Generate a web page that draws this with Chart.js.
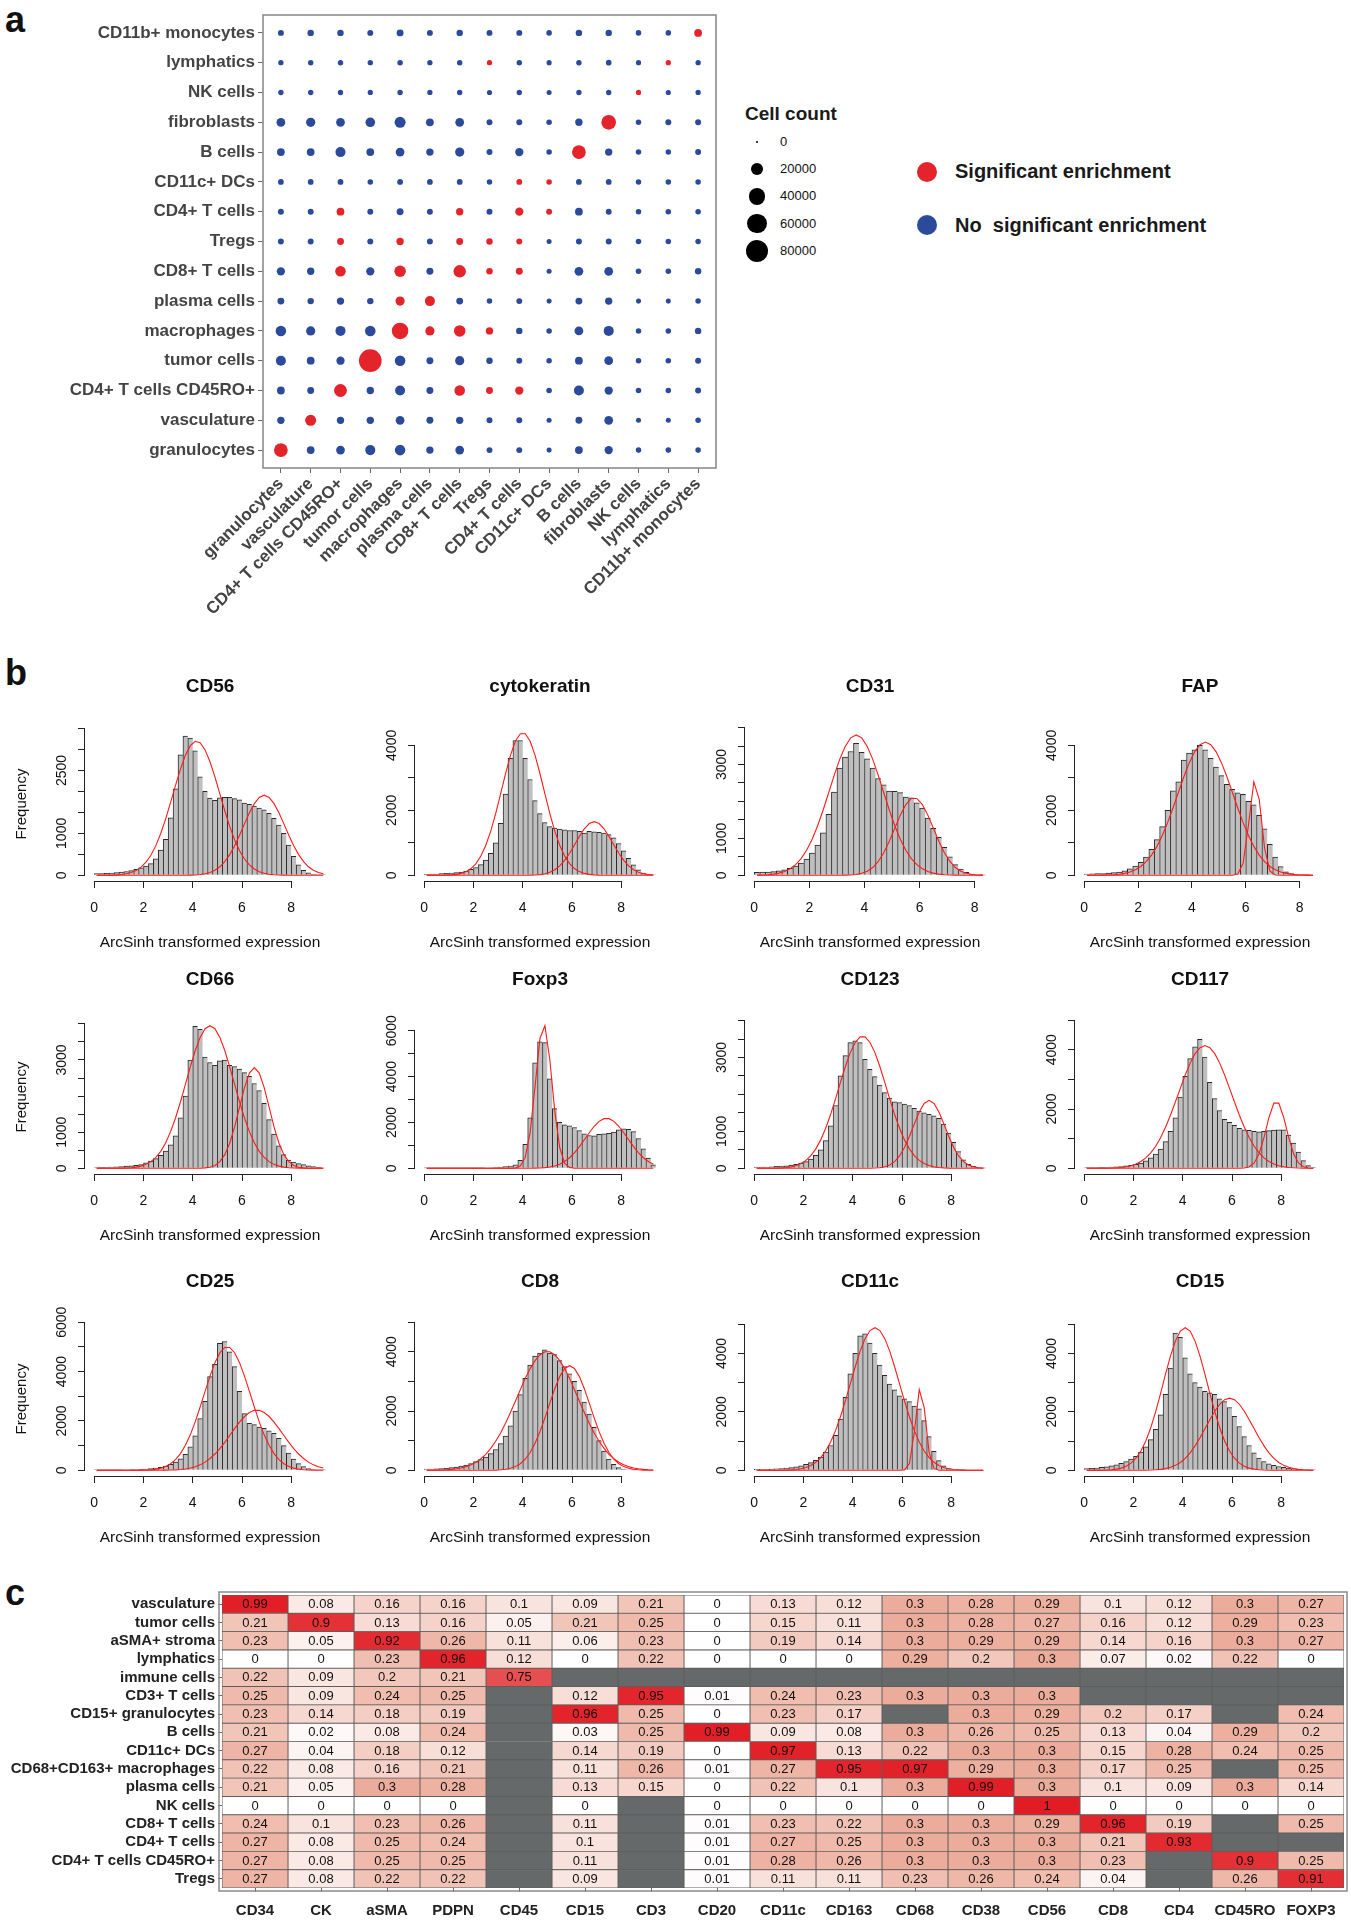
<!DOCTYPE html>
<html>
<head>
<meta charset="utf-8">
<script src="https://cdn.jsdelivr.net/npm/chart.js@4.4.0/dist/chart.umd.min.js"></script>
<style>
body{margin:0;background:#fff;width:1351px;height:1920px;position:relative;overflow:hidden;font-family:"Liberation Sans",Arial,Helvetica,sans-serif;color:#111}
canvas{position:absolute}
.pl{position:absolute;font-weight:bold;font-size:36px;line-height:36px}
.dot{position:absolute;border-radius:50%}
.txt{position:absolute;white-space:pre;line-height:16px}
.big{font-weight:bold;font-size:20px;line-height:22px;color:#1a1a1a}
</style>
</head>
<body>
<div class="pl" style="left:5px;top:2px">a</div>
<div class="pl" style="left:5px;top:655px">b</div>
<div class="pl" style="left:5px;top:1575px">c</div>

<canvas id="dots" width="740" height="660" style="left:0;top:0"></canvas>
<div class="txt big" style="left:745px;top:103px;font-size:19px">Cell count</div>
<div class="dot" style="left:917px;top:162px;width:20px;height:20px;background:#e3242b"></div>
<div class="txt big" style="left:955px;top:160px">Significant enrichment</div>
<div class="dot" style="left:917px;top:215px;width:20px;height:20px;background:#2b4a9c"></div>
<div class="txt big" style="left:955px;top:214px">No  significant enrichment</div>

<canvas id="heat" width="1351" height="340" style="left:0;top:1580px"></canvas>

<script>
// ---------- panel a : neighbourhood enrichment ----------
var cellTypes = ['granulocytes', 'vasculature', 'CD4+ T cells CD45RO+', 'tumor cells', 'macrophages',
  'plasma cells', 'CD8+ T cells', 'Tregs', 'CD4+ T cells', 'CD11c+ DCs', 'B cells', 'fibroblasts',
  'NK cells', 'lymphatics', 'CD11b+ monocytes'];

// cell counts, one row per y category (granulocytes first = bottom row)
var cellCounts = [
  [25600, 5200, 7400, 11000, 12700, 4300, 7400, 2000, 2000, 1000, 5200, 6200, 1500, 1500, 1500],
  [4300, 14300, 4300, 4300, 7400, 3500, 4300, 2000, 2000, 1000, 3500, 7400, 1000, 1000, 1500],
  [5200, 3500, 21500, 4300, 11000, 3500, 12700, 3500, 6200, 1500, 11000, 6200, 1500, 1500, 2000],
  [11000, 5200, 6200, 85000, 12700, 3500, 8600, 2700, 2000, 1500, 5200, 7400, 1500, 1500, 2000],
  [12700, 8600, 11000, 12700, 40000, 8600, 16000, 4300, 2700, 1500, 7400, 11000, 1500, 1500, 2700],
  [3500, 2700, 4300, 2700, 8600, 11000, 3500, 1500, 2000, 1000, 3500, 4300, 1000, 1000, 1500],
  [6200, 4300, 12700, 6200, 16000, 3500, 19500, 2700, 3500, 1000, 7400, 7400, 1500, 1500, 2700],
  [2000, 2000, 3500, 2000, 4300, 2000, 3500, 2700, 2000, 1000, 2000, 2000, 1500, 1500, 1500],
  [2000, 2000, 5200, 2000, 3500, 2000, 4300, 2000, 6200, 2000, 5200, 2000, 1500, 1500, 1500],
  [1800, 1800, 1800, 1500, 1800, 1800, 1800, 1500, 1800, 1500, 1800, 1800, 1500, 1500, 1500],
  [5200, 5200, 11000, 5200, 7400, 4300, 8600, 2000, 6200, 1500, 25600, 4300, 1500, 1500, 2000],
  [7400, 8600, 7400, 9800, 14300, 5200, 7400, 2000, 2000, 1500, 4300, 30000, 1500, 2000, 2000],
  [1300, 1300, 1300, 1200, 1400, 1200, 1300, 1100, 1300, 1000, 1300, 1300, 1200, 1100, 1200],
  [1300, 1400, 1400, 1300, 1500, 1300, 1400, 1300, 1400, 1100, 1400, 1600, 1100, 1300, 1300],
  [2000, 2700, 2700, 2000, 3500, 2000, 2700, 2000, 2000, 1500, 2700, 2700, 1500, 1500, 5200]
];

// columns with significant enrichment, per row
var sigCells = [[0], [1], [2, 6, 7, 8], [3], [4, 5, 6, 7], [4, 5], [2, 4, 6, 7, 8], [2, 4, 6, 7, 8],
  [2, 6, 8, 9], [8, 9], [10], [11], [12], [7, 13], [14]];

var legendCounts = [0, 20000, 40000, 60000, 80000];

// ---------- panel b : marker histograms ----------
var binMids = [0.1, 0.3, 0.5, 0.7, 0.9, 1.1, 1.3, 1.5, 1.7, 1.9, 2.1, 2.3, 2.5, 2.7, 2.9, 3.1, 3.3, 3.5, 3.7, 3.9,
  4.1, 4.3, 4.5, 4.7, 4.9, 5.1, 5.3, 5.5, 5.7, 5.9, 6.1, 6.3, 6.5, 6.7, 6.9, 7.1, 7.3, 7.5, 7.7, 7.9,
  8.1, 8.3, 8.5, 8.7, 8.9, 9.1, 9.3];

var cd56Hist = [40,40,45,55,65,75,90,110,140,180,220,280,390,600,860,1370,2060,2870,3320,3270,2970,2350,2000,1840,1790,1850,1860,1860,1830,1800,1720,1690,1650,1600,1560,1480,1360,1200,1000,720,450,250,120,60,25,10,5];
var cd56Fit1 = [0,1,2,4,9,19,36,66,115,195,311,479,707,998,1346,1737,2144,2532,2861,3091,3196,3160,2990,2707,2343,1941,1539,1166,845,586,389,247,150,87,48,26,13,6,3,1,0,0,0,0,0,0,0];
var cd56Fit2 = [0,0,0,0,0,0,0,0,0,0,0,0,0,0,0,0,0,0,2,4,8,18,36,67,120,202,325,493,705,957,1226,1490,1709,1858,1910,1858,1709,1490,1226,957,705,493,325,202,120,67,36];

var cytoHist = [30,35,40,50,60,70,80,100,130,180,240,330,470,680,1000,1600,2500,3600,4150,4150,3600,2950,2300,1900,1620,1500,1450,1420,1400,1380,1380,1350,1300,1350,1340,1320,1300,1250,1150,980,750,520,320,170,70,25,10];
var cytoFit1 = [0,0,1,3,6,13,28,58,113,208,361,593,926,1361,1901,2507,3126,3692,4127,4360,4360,4127,3692,3126,2507,1901,1361,926,593,361,208,113,58,28,13,6,3,1,0,0,0,0,0,0,0,0,0];
var cytoFit2 = [0,0,0,0,0,0,0,0,0,0,0,0,0,0,0,0,0,0,0,1,2,4,10,22,47,93,170,289,459,678,934,1198,1431,1592,1650,1592,1431,1198,934,678,459,289,170,93,47,22,10];

var cd31Hist = [80,85,90,100,120,150,190,250,330,440,600,820,1150,1650,2250,2900,3200,3350,3570,3330,3150,2900,2620,2450,2280,2270,2240,2120,2100,1960,1820,1550,1270,1030,760,500,290,170,80,35,15,5];
var cd31Fit1 = [4,8,16,32,59,105,178,290,452,680,977,1341,1767,2234,2706,3139,3488,3720,3800,3720,3488,3139,2706,2234,1767,1341,977,680,452,290,178,105,59,32,16,8,4,2,1,0,0,0];
var cd31Fit2 = [0,0,0,0,0,0,0,0,0,0,0,0,0,0,0,1,4,9,23,53,110,211,374,611,920,1275,1628,1915,2079,2079,1915,1628,1275,920,611,374,211,110,53,23,9,4];

var fapHist = [40,45,50,55,65,80,100,140,200,280,400,560,800,1100,1500,2000,2600,2880,3545,3760,3860,4000,3860,3600,3330,3070,2800,2650,2540,2490,2280,2170,1850,1430,950,560,265,105,50,20,8,3,0];
var fapFit1 = [0,1,2,5,9,18,33,59,102,169,272,418,623,890,1226,1628,2079,2558,3034,3460,3801,4022,4100,4022,3801,3460,3034,2558,2079,1628,1226,890,623,418,272,169,102,59,33,18,9,5,2];
var fapFit2 = [0,0,0,0,0,0,0,0,0,0,0,0,0,0,0,0,0,0,0,0,0,0,0,0,0,0,0,2,38,364,1546,2880,2340,832,130,9,0,0,0,0,0,0,0];

var cd66Hist = [20,25,30,35,40,50,60,70,85,100,150,200,270,360,480,650,900,1400,2000,3000,3930,3850,3080,2930,2850,2980,3000,2850,2820,2750,2650,2550,2350,2150,1800,1350,950,620,380,230,170,130,100,70,45,25,10];
var cd66Fit1 = [0,0,0,1,2,4,9,17,33,61,109,185,302,470,707,1015,1394,1837,2323,2812,3263,3626,3867,3950,3867,3626,3263,2812,2323,1837,1394,1015,707,470,302,185,109,61,33,17,9,4,2,1,0,0,0];
var cd66Fit2 = [0,0,0,0,0,0,0,0,0,0,0,0,0,0,0,0,0,0,0,0,1,3,11,31,80,183,377,695,1147,1694,2235,2639,2790,2639,2235,1694,1147,695,377,183,80,31,11,3,1,0,0];

var foxp3Hist = [5,5,5,5,5,5,5,5,10,10,10,15,20,25,35,50,80,100,150,350,1050,2200,4600,5520,5480,3900,2600,2000,1900,1850,1780,1650,1500,1430,1420,1480,1500,1520,1580,1680,1720,1700,1600,1300,850,450,150];
var foxp3Fit1 = [0,0,0,0,0,0,0,0,0,0,0,0,0,0,0,0,0,1,14,100,475,1566,3585,5674,6220,4724,2485,906,228,40,5,1,0,0,0,0,0,0,0,0,0,0,0,0,0,0,0];
var foxp3Fit2 = [0,0,0,0,0,0,0,0,0,0,0,0,0,0,0,0,0,0,0,0,1,3,7,14,29,56,103,179,294,460,676,944,1245,1552,1833,2049,2165,2165,2049,1833,1552,1245,944,676,460,294,179];

var cd123Hist = [30,30,35,40,50,60,70,85,110,140,180,250,350,500,750,1150,1700,2500,3050,3400,3450,3400,2950,2680,2480,2250,2050,1900,1800,1780,1740,1700,1620,1550,1500,1460,1420,1350,1200,950,700,450,230,110,50,20,5];
var cd123Fit1 = [0,0,1,2,5,11,21,39,75,129,215,343,526,769,1083,1455,1880,2324,2756,3132,3407,3557,3557,3407,3132,2756,2324,1880,1455,1083,769,526,343,215,129,75,39,21,11,5,2,1,0,0,0,0,0];
var cd123Fit2 = [0,0,0,0,0,0,0,0,0,0,0,0,0,0,0,0,0,0,0,0,0,0,0,2,6,16,40,89,181,335,563,863,1202,1522,1755,1840,1755,1522,1202,863,563,335,181,89,40,16,6];

var cd117Hist = [20,20,25,30,35,40,50,60,80,100,130,180,250,350,480,650,900,1250,1700,2400,3100,3700,4100,4350,3750,2900,2350,1950,1650,1550,1450,1350,1300,1280,1250,1230,1250,1270,1290,1300,1300,1120,850,550,260,90,20];
var cd117Fit1 = [0,0,1,2,4,8,16,29,51,87,144,229,351,522,745,1031,1383,1788,2236,2695,3146,3548,3867,4070,4140,4070,3867,3548,3146,2695,2236,1788,1383,1031,745,522,351,229,144,87,51,29,16,8,4,2,1];
var cd117Fit2 = [0,0,0,0,0,0,0,0,0,0,0,0,0,0,0,0,0,0,0,0,0,0,0,0,0,0,0,0,0,0,0,2,12,52,181,490,1040,1714,2200,2200,1714,1040,490,181,52,12,2];

var cd25Hist = [10,10,10,10,15,15,20,25,30,40,50,70,90,120,170,240,330,460,650,950,1400,2100,2800,3800,4300,5150,5220,4800,4200,3200,2300,1900,1850,1750,1700,1600,1500,1300,1000,700,450,270,150,70,30,10,5];
var cd25Fit1 = [0,0,0,0,0,0,0,1,3,6,12,24,48,88,157,267,435,676,1012,1438,1964,2565,3196,3818,4364,4765,4980,4980,4765,4364,3818,3196,2565,1964,1438,1012,676,435,267,157,88,48,24,12,6,3,1];
var cd25Fit2 = [0,0,0,0,0,0,0,0,0,0,0,0,0,2,5,10,18,31,54,90,140,220,330,480,660,880,1130,1410,1690,1950,2180,2340,2430,2430,2340,2180,1950,1690,1410,1130,880,660,480,330,220,140,90];

var cd8Hist = [40,45,50,60,70,90,110,140,180,230,290,360,450,560,700,900,1150,1500,2000,2550,3100,3550,3850,3950,4060,3950,3900,3700,3500,3250,3000,2700,2300,1900,1450,1000,650,380,200,90,40,15,5,0,0,0,0];
var cd8Fit1 = [2,4,6,11,18,31,50,79,123,185,272,390,540,740,980,1260,1590,1950,2330,2720,3100,3430,3700,3900,4000,4000,3900,3700,3430,3100,2720,2330,1950,1590,1260,980,740,540,390,272,185,123,79,50,31,18,11];
var cd8Fit2 = [0,0,0,0,0,0,0,0,0,0,0,0,1,3,7,16,33,66,124,222,374,600,911,1303,1769,2266,2753,3160,3435,3530,3435,3160,2753,2266,1769,1303,911,600,374,222,124,66,33,16,7,3,1];

var cd11cHist = [30,30,35,40,50,60,75,90,115,150,200,260,340,450,620,850,1200,1750,2500,3300,4000,4600,4670,4350,4000,3600,3250,2950,2750,2550,2450,2350,2200,2100,1700,1150,650,330,150,60,20,10,5,0,0,0,0];
var cd11cFit1 = [0,0,0,1,2,4,7,15,29,54,97,166,274,434,660,966,1357,1832,2376,2960,3543,4077,4505,4783,4880,4783,4505,4077,3543,2960,2376,1832,1357,966,660,434,274,166,97,54,29,15,7,4,2,1,0];
var cd11cFit2 = [0,0,0,0,0,0,0,0,0,0,0,0,0,0,0,0,0,0,0,0,0,0,0,0,0,0,0,0,0,0,14,228,1305,2760,2150,615,65,3,0,0,0,0,0,0,0,0,0];

var cd15Hist = [60,70,80,100,120,150,190,240,300,380,480,620,800,1050,1400,1900,2600,3500,4700,4550,3850,3300,3000,2850,2700,2650,2600,2450,2350,2150,1850,1500,1150,850,600,420,300,220,170,130,100,70,50,30,15,8,3];
var cd15Fit1 = [0,1,2,4,9,19,39,75,140,246,413,659,1005,1454,2006,2635,3289,3909,4421,4763,4880,4763,4421,3909,3289,2635,2006,1454,1005,659,413,246,140,75,39,19,9,4,2,1,0,0,0,0,0,0,0];
var cd15Fit2 = [0,0,0,0,0,0,0,0,0,0,1,2,4,8,17,32,58,102,169,269,410,598,835,1112,1420,1731,2023,2260,2416,2470,2416,2260,2023,1731,1420,1112,835,598,410,269,169,102,58,32,17,8,4];

var histPanels = [
  {name: 'CD56', hist: cd56Hist, fits: [cd56Fit1, cd56Fit2], top: 3400, step: 500, shown: [0, 1000, 2500]},
  {name: 'cytokeratin', hist: cytoHist, fits: [cytoFit1, cytoFit2], top: 4390, step: 1000, shown: [0, 2000, 4000]},
  {name: 'CD31', hist: cd31Hist, fits: [cd31Fit1, cd31Fit2], top: 3860, step: 500, shown: [0, 1000, 3000]},
  {name: 'FAP', hist: fapHist, fits: [fapFit1, fapFit2], top: 4390, step: 1000, shown: [0, 2000, 4000]},
  {name: 'CD66', hist: cd66Hist, fits: [cd66Fit1, cd66Fit2], top: 3950, step: 500, shown: [0, 1000, 3000]},
  {name: 'Foxp3', hist: foxp3Hist, fits: [foxp3Fit1, foxp3Fit2], top: 6220, step: 1000, shown: [0, 2000, 4000, 6000]},
  {name: 'CD123', hist: cd123Hist, fits: [cd123Fit1, cd123Fit2], top: 3860, step: 500, shown: [0, 1000, 3000]},
  {name: 'CD117', hist: cd117Hist, fits: [cd117Fit1, cd117Fit2], top: 4810, step: 1000, shown: [0, 2000, 4000]},
  {name: 'CD25', hist: cd25Hist, fits: [cd25Fit1, cd25Fit2], top: 5780, step: 1000, shown: [0, 2000, 4000, 6000]},
  {name: 'CD8', hist: cd8Hist, fits: [cd8Fit1, cd8Fit2], top: 4810, step: 1000, shown: [0, 2000, 4000]},
  {name: 'CD11c', hist: cd11cHist, fits: [cd11cFit1, cd11cFit2], top: 4880, step: 1000, shown: [0, 2000, 4000]},
  {name: 'CD15', hist: cd15Hist, fits: [cd15Fit1, cd15Fit2], top: 4880, step: 1000, shown: [0, 2000, 4000]}
];
var xTickVals = [0, 2, 4, 6, 8];

// ---------- panel c : correlation heatmap ----------
var heatRows = ['vasculature', 'tumor cells', 'aSMA+ stroma', 'lymphatics', 'immune cells', 'CD3+ T cells',
  'CD15+ granulocytes', 'B cells', 'CD11c+ DCs', 'CD68+CD163+ macrophages', 'plasma cells', 'NK cells',
  'CD8+ T cells', 'CD4+ T cells', 'CD4+ T cells CD45RO+', 'Tregs'];
var heatCols = ['CD34', 'CK', 'aSMA', 'PDPN', 'CD45', 'CD15', 'CD3', 'CD20', 'CD11c', 'CD163', 'CD68',
  'CD38', 'CD56', 'CD8', 'CD4', 'CD45RO', 'FOXP3'];
var heatVals = [
  [0.99, 0.08, 0.16, 0.16, 0.1, 0.09, 0.21, 0, 0.13, 0.12, 0.3, 0.28, 0.29, 0.1, 0.12, 0.3, 0.27],
  [0.21, 0.9, 0.13, 0.16, 0.05, 0.21, 0.25, 0, 0.15, 0.11, 0.3, 0.28, 0.27, 0.16, 0.12, 0.29, 0.23],
  [0.23, 0.05, 0.92, 0.26, 0.11, 0.06, 0.23, 0, 0.19, 0.14, 0.3, 0.29, 0.29, 0.14, 0.16, 0.3, 0.27],
  [0, 0, 0.23, 0.96, 0.12, 0, 0.22, 0, 0, 0, 0.29, 0.2, 0.3, 0.07, 0.02, 0.22, 0],
  [0.22, 0.09, 0.2, 0.21, 0.75, null, null, null, null, null, null, null, null, null, null, null, null],
  [0.25, 0.09, 0.24, 0.25, null, 0.12, 0.95, 0.01, 0.24, 0.23, 0.3, 0.3, 0.3, null, null, null, null],
  [0.23, 0.14, 0.18, 0.19, null, 0.96, 0.25, 0, 0.23, 0.17, null, 0.3, 0.29, 0.2, 0.17, null, 0.24],
  [0.21, 0.02, 0.08, 0.24, null, 0.03, 0.25, 0.99, 0.09, 0.08, 0.3, 0.26, 0.25, 0.13, 0.04, 0.29, 0.2],
  [0.27, 0.04, 0.18, 0.12, null, 0.14, 0.19, 0, 0.97, 0.13, 0.22, 0.3, 0.3, 0.15, 0.28, 0.24, 0.25],
  [0.22, 0.08, 0.16, 0.21, null, 0.11, 0.26, 0.01, 0.27, 0.95, 0.97, 0.29, 0.3, 0.17, 0.25, null, 0.25],
  [0.21, 0.05, 0.3, 0.28, null, 0.13, 0.15, 0, 0.22, 0.1, 0.3, 0.99, 0.3, 0.1, 0.09, 0.3, 0.14],
  [0, 0, 0, 0, null, 0, null, 0, 0, 0, 0, 0, 1, 0, 0, 0, 0],
  [0.24, 0.1, 0.23, 0.26, null, 0.11, null, 0.01, 0.23, 0.22, 0.3, 0.3, 0.29, 0.96, 0.19, null, 0.25],
  [0.27, 0.08, 0.25, 0.24, null, 0.1, null, 0.01, 0.27, 0.25, 0.3, 0.3, 0.3, 0.21, 0.93, null, null],
  [0.27, 0.08, 0.25, 0.25, null, 0.11, null, 0.01, 0.28, 0.26, 0.3, 0.3, 0.3, 0.23, null, 0.9, 0.25],
  [0.27, 0.08, 0.22, 0.22, null, 0.09, null, 0.01, 0.11, 0.11, 0.23, 0.26, 0.24, 0.04, null, 0.26, 0.91]
];

// ================= drawing =================
Chart.defaults.font.family = '"Liberation Sans", Arial, Helvetica, sans-serif';
Chart.defaults.color = '#111';
Chart.defaults.animation = false;

var RED = '#e3242b';
var BLUE = '#2b4a9c';

// ggplot-like area scale: diameter grows with sqrt(count)
function dotRadius(n) {
  return 1.45 + 0.034 * Math.sqrt(n);
}

var bubblePts = [];
cellCounts.forEach(function (row, yi) {
  row.forEach(function (n, xi) {
    bubblePts.push({x: xi, y: yi, r: dotRadius(n), sig: sigCells[yi].indexOf(xi) >= 0});
  });
});

var boxPlugin = {
  id: 'box',
  afterDraw: function (chart) {
    var a = chart.chartArea, c = chart.ctx;
    c.save();
    c.strokeStyle = '#8c8c8c';
    c.lineWidth = 1.6;
    c.strokeRect(a.left, a.top, a.right - a.left, a.bottom - a.top);
    c.restore();
  }
};

new Chart(document.getElementById('dots'), {
  type: 'bubble',
  data: {
    datasets: [{
      data: bubblePts,
      backgroundColor: function (ctx) { return ctx.raw && ctx.raw.sig ? RED : BLUE; },
      borderWidth: 0
    }]
  },
  options: {
    responsive: false,
    animation: false,
    layout: {padding: {top: 15, right: 24, left: 0, bottom: 0}},
    plugins: {legend: {display: false}, tooltip: {enabled: false}},
    scales: {
      x: {
        type: 'linear', min: -0.6, max: 14.6,
        afterBuildTicks: function (s) { s.ticks = cellTypes.map(function (_, i) { return {value: i}; }); },
        afterFit: function (s) { s.height = 192; },
        grid: {drawOnChartArea: false, tickLength: 5, color: '#666'},
        border: {display: false},
        ticks: {
          autoSkip: false, minRotation: 45, maxRotation: 45, padding: 1,
          font: {size: 17, weight: 'bold'}, color: '#444',
          callback: function (v) { return cellTypes[v]; }
        }
      },
      y: {
        type: 'linear', min: -0.6, max: 14.6,
        afterBuildTicks: function (s) { s.ticks = cellTypes.map(function (_, i) { return {value: i}; }); },
        afterFit: function (s) { s.width = 263; },
        grid: {drawOnChartArea: false, tickLength: 5, color: '#666'},
        border: {display: false},
        ticks: {
          autoSkip: false, padding: 3,
          font: {size: 17, weight: 'bold'}, color: '#444',
          callback: function (v) { return cellTypes[v]; }
        }
      }
    }
  },
  plugins: [boxPlugin]
});

// size legend
legendCounts.forEach(function (n, i) {
  var d = 2 * dotRadius(n);
  var cy = 142 + i * 27.2;
  var dot = document.createElement('div');
  dot.className = 'dot';
  dot.style.cssText = 'left:' + (757 - d / 2) + 'px;top:' + (cy - d / 2) + 'px;width:' + d + 'px;height:' + d + 'px;background:#000';
  document.body.appendChild(dot);
  var t = document.createElement('div');
  t.className = 'txt';
  t.style.cssText = 'left:780px;top:' + (cy - 8) + 'px;font-size:13px';
  t.textContent = String(n);
  document.body.appendChild(t);
});

// R style axes: line only from first to last tick
var rAxes = {
  id: 'rAxes',
  afterDraw: function (chart) {
    var c = chart.ctx, xs = chart.scales.x, ys = chart.scales.y;
    var xt = xs.ticks, yt = ys.ticks;
    c.save();
    c.strokeStyle = '#222';
    c.lineWidth = 1;
    c.beginPath();
    c.moveTo(xs.getPixelForValue(xt[0].value), xs.top + 0.5);
    c.lineTo(xs.getPixelForValue(xt[xt.length - 1].value), xs.top + 0.5);
    c.moveTo(ys.right - 0.5, ys.getPixelForValue(yt[0].value));
    c.lineTo(ys.right - 0.5, ys.getPixelForValue(yt[yt.length - 1].value));
    c.stroke();
    c.restore();
  }
};

var rowTops = [665, 958, 1260];
var binWidth = 0.2;

histPanels.forEach(function (p, idx) {
  var r = Math.floor(idx / 4), col = idx % 4;
  var cv = document.createElement('canvas');
  cv.width = 345;
  cv.height = 295;
  cv.style.left = (col * 330) + 'px';
  cv.style.top = rowTops[r] + 'px';
  document.body.appendChild(cv);

  var xr = p.hist.length * binWidth;
  var yTicks = [];
  for (var v = 0; v <= p.top * 1.04; v += p.step) yTicks.push(v);

  var sets = [{
    type: 'bar',
    order: 2,
    data: p.hist.map(function (h, i) { return {x: binMids[i], y: h}; }),
    backgroundColor: '#bfbfbf',
    borderColor: '#2a2a2a',
    borderWidth: {left: 1, top: 1, right: 0, bottom: 0},
    borderSkipped: false,
    barPercentage: 1,
    categoryPercentage: 1
  }];
  p.fits.forEach(function (f) {
    sets.push({
      type: 'line',
      order: 1,
      data: f.map(function (y, i) { return {x: binMids[i], y: y}; }),
      borderColor: '#ff1a1a',
      borderWidth: 1.1,
      pointRadius: 0,
      tension: 0,
      fill: false
    });
  });

  new Chart(cv, {
    type: 'bar',
    data: {datasets: sets},
    options: {
      responsive: false,
      animation: false,
      layout: {padding: {top: 0, right: 10, left: 0, bottom: 0}},
      plugins: {
        legend: {display: false},
        tooltip: {enabled: false},
        title: {display: true, fullSize: false, text: p.name, font: {size: 19, weight: 'bold'}, color: '#111',
          padding: {top: 10.6, bottom: 28.6}}
      },
      scales: {
        x: {
          type: 'linear', min: -0.04 * xr, max: xr * 1.04, offset: false,
          afterBuildTicks: function (s) { s.ticks = xTickVals.map(function (t) { return {value: t}; }); },
          afterFit: function (s) { s.height = 79; },
          grid: {drawOnChartArea: false, offset: false, tickLength: 7, color: '#222'},
          border: {display: false},
          ticks: {autoSkip: false, padding: 12, font: {size: 14}, color: '#111'},
          title: {display: true, text: 'ArcSinh transformed expression', font: {size: 15.5}, color: '#111', padding: {top: 0, bottom: 8}}
        },
        y: {
          type: 'linear', min: -0.04 * p.top, max: 1.04 * p.top,
          afterBuildTicks: function (s) { s.ticks = yTicks.map(function (t) { return {value: t}; }); },
          afterFit: function (s) { s.width = 85; },
          grid: {drawOnChartArea: false, tickLength: 7, color: '#222'},
          border: {display: false},
          ticks: {
            autoSkip: false, minRotation: 90, maxRotation: 90, crossAlign: 'center', padding: 0,
            font: {size: 14}, color: '#111',
            callback: function (t) { return p.shown.indexOf(t) >= 0 ? String(t) : ''; }
          },
          title: {display: col === 0, text: 'Frequency', font: {size: 15}, color: '#111', padding: {top: 13, bottom: 0}}
        }
      }
    },
    plugins: [rAxes]
  });
});

// heatmap colours: white -> salmon -> red
function heatColor(v) {
  if (v === null) return '#666969';
  var stops = [[0, [255, 255, 255]], [0.3, [236, 172, 155]], [1, [226, 28, 36]]];
  var k = v <= 0.3 ? 0 : 1;
  var a = stops[k], b = stops[k + 1];
  var t = Math.max(0, Math.min(1, (v - a[0]) / (b[0] - a[0])));
  var rgb = a[1].map(function (c, i) { return Math.round(c + (b[1][i] - c) * t); });
  return 'rgb(' + rgb.join(',') + ')';
}

var cellText = {
  id: 'cellText',
  afterDatasetsDraw: function (chart) {
    var c = chart.ctx;
    c.save();
    c.font = '13px "Liberation Sans", Arial, sans-serif';
    c.fillStyle = '#111';
    c.textAlign = 'center';
    c.textBaseline = 'middle';
    chart.data.datasets.forEach(function (ds, j) {
      chart.getDatasetMeta(j).data.forEach(function (el, i) {
        var v = heatVals[i][j];
        if (v === null) return;
        c.fillText(String(v), (el.x + el.base) / 2, el.y + 0.5);
      });
    });
    c.restore();
  }
};

var heatFrame = {
  id: 'heatFrame',
  afterDraw: function (chart) {
    var a = chart.chartArea, c = chart.ctx;
    c.save();
    c.strokeStyle = '#8a8a8a';
    c.lineWidth = 1.5;
    c.strokeRect(a.left - 3, a.top - 3, a.right - a.left + 6, a.bottom - a.top + 6);
    c.restore();
  }
};

var heatSets = heatCols.map(function (name, j) {
  return {
    label: name,
    data: heatRows.map(function () { return [j, j + 1]; }),
    backgroundColor: function (ctx) { return heatColor(heatVals[ctx.dataIndex][j]); },
    borderColor: '#5e5e5e',
    borderWidth: 0.8,
    borderSkipped: false,
    barPercentage: 1,
    categoryPercentage: 1,
    grouped: false
  };
});

new Chart(document.getElementById('heat'), {
  type: 'bar',
  data: {labels: heatRows, datasets: heatSets},
  options: {
    indexAxis: 'y',
    responsive: false,
    animation: false,
    layout: {padding: {top: 15, right: 7, left: 0, bottom: 0}},
    plugins: {legend: {display: false}, tooltip: {enabled: false}},
    scales: {
      x: {
        type: 'linear', min: 0, max: 17,
        afterBuildTicks: function (s) { s.ticks = heatCols.map(function (_, j) { return {value: j + 0.5}; }); },
        afterFit: function (s) { s.height = 32; },
        grid: {drawOnChartArea: false, tickLength: 4, color: '#666'},
        border: {display: false},
        ticks: {autoSkip: false, padding: 10, font: {size: 15, weight: 'bold'}, color: '#222',
          callback: function (v, i) { return heatCols[i]; }}
      },
      y: {
        type: 'category',
        afterFit: function (s) { s.width = 222; },
        grid: {drawOnChartArea: false, offset: false, tickLength: 4, color: '#666'},
        border: {display: false},
        ticks: {autoSkip: false, padding: 3, font: {size: 15, weight: 'bold'}, color: '#222'}
      }
    }
  },
  plugins: [cellText, heatFrame]
});
</script>
</body>
</html>
